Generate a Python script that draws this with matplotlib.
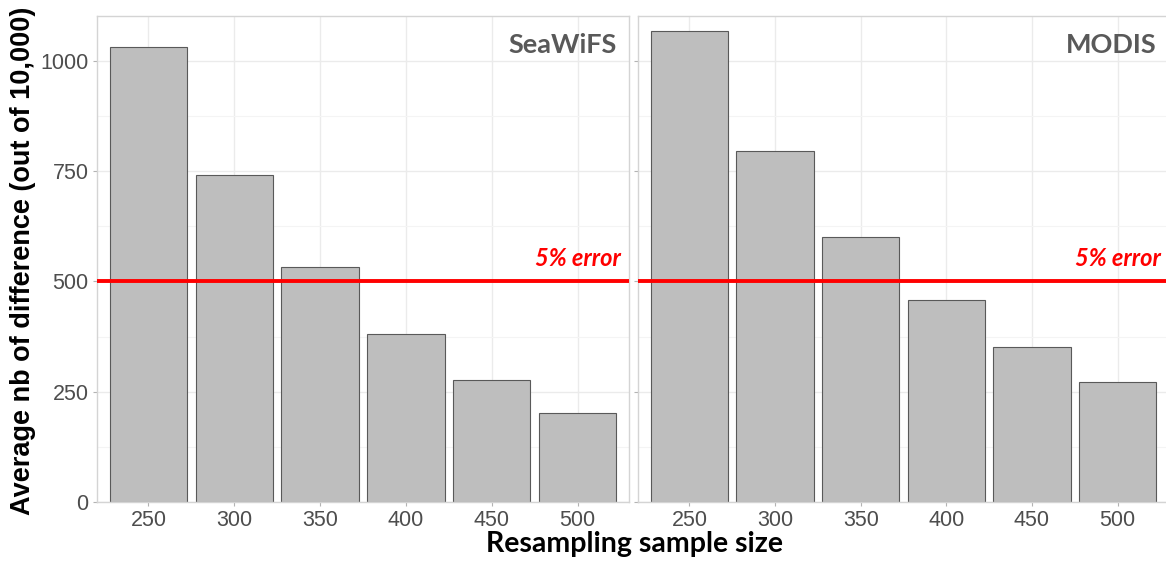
import numpy as np
import matplotlib
matplotlib.use("Agg")
import matplotlib.pyplot as plt
from matplotlib.ticker import MultipleLocator

# data
sizes = ["250", "300", "350", "400", "450", "500"]
seawifs = [1032, 741, 533, 381, 277, 201]
modis = [1068, 796, 601, 458, 351, 272]
panels = ["SeaWiFS", "MODIS"]
threshold = 500
y_ticks = [0, 250, 500, 750, 1000]

fig = plt.figure(figsize=(11.66, 5.61), dpi=100)
W, H = 1166, 561
boxes = [(97, 16, 629, 502), (638, 16, 1169, 502)]

TXT = "#4D4D4D"
GRID = "#EBEBEB"
BORDER = "#D4D4D4"

for i, (name, vals) in enumerate(zip(panels, [seawifs, modis])):
    x0, y0, x1, y1 = boxes[i]
    ax = fig.add_axes([x0 / W, 1 - y1 / H, (x1 - x0) / W, (y1 - y0) / H])
    xs = np.arange(len(sizes))
    ax.bar(xs, vals, width=0.9, color="#BEBEBE", edgecolor="#595959", linewidth=0.8, zorder=2)
    ax.set_xlim(-0.6, len(sizes) - 0.4)
    ax.set_ylim(0, 1102)
    ax.set_xticks(xs)
    ax.set_xticklabels(sizes)
    ax.yaxis.set_major_locator(MultipleLocator(250))
    ax.yaxis.set_minor_locator(MultipleLocator(125))
    ax.grid(True, which="major", color=GRID, lw=1.0, zorder=0)
    ax.grid(True, which="minor", axis="y", color="#F4F4F4", lw=0.8, zorder=0)
    ax.set_axisbelow(True)
    for s in ax.spines.values():
        s.set_color(BORDER)
        s.set_linewidth(1.0)
    ax.tick_params(axis="both", which="major", colors="#B3B3B3", length=3, width=0.8,
                   labelcolor=TXT, labelsize=15.5, pad=3)
    ax.tick_params(axis="both", which="minor", length=0)
    for lab in ax.get_xticklabels() + ax.get_yticklabels():
        lab.set_family("Liberation Sans")
    if i == 0:
        ax.set_yticks(y_ticks)
    else:
        ax.set_yticklabels([])
    ax.axhline(threshold, color="#FF0000", lw=2.8, zorder=3)
    ax.text(0.977, 0.94, name, transform=ax.transAxes, ha="right", va="center",
            fontsize=19.5, fontweight="bold", color="#595959", family="Lato")
    ax.text(0.985, threshold + 25, "5% error", transform=ax.get_yaxis_transform(),
            ha="right", va="bottom", fontsize=17, fontweight="bold", style="italic",
            color="#FF0000", family="Lato")

fig.text(23 / W, 1 - 261 / H, "Average nb of difference (out of 10,000)", rotation=90,
         ha="center", va="center", fontsize=19.5, fontweight="bold",
         family="Liberation Sans", color="black")
fig.text(635 / W, 1 - 544 / H, "Resampling sample size", ha="center", va="center",
         fontsize=20.5, fontweight="bold", family="Lato", color="black")

fig.savefig("out.png", dpi=100, facecolor="white")
